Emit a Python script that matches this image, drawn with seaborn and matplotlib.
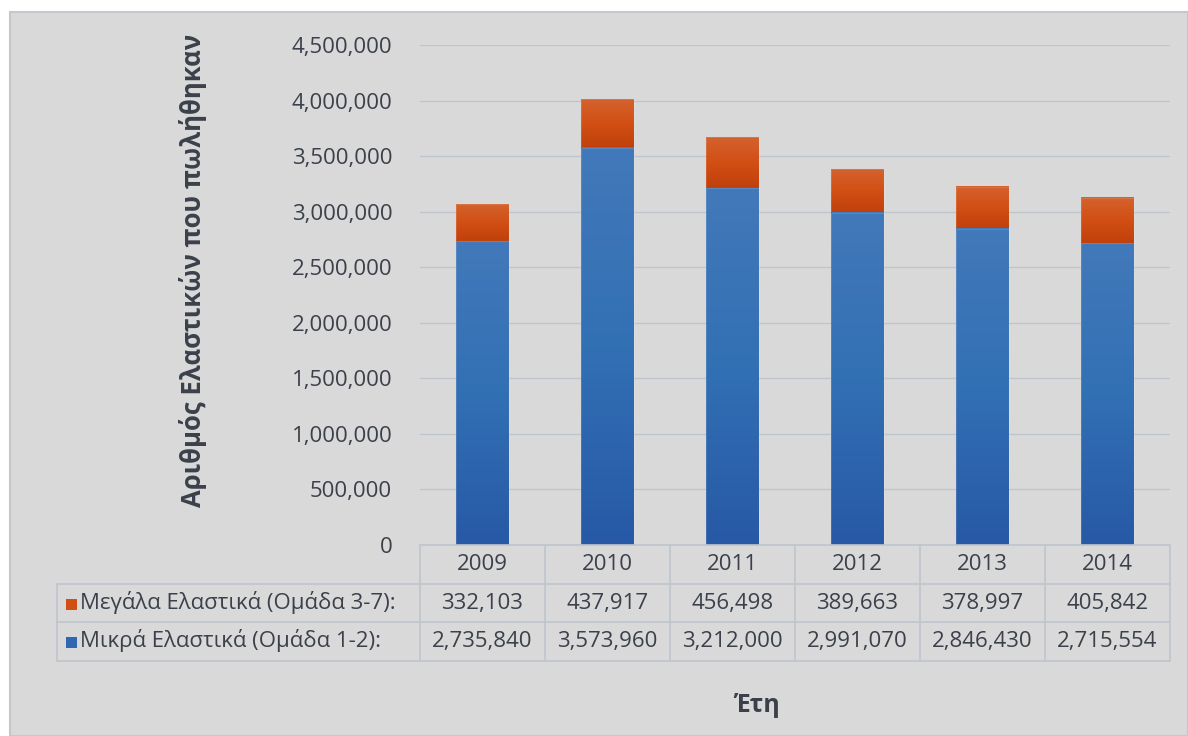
import numpy as np
import pandas as pd
import matplotlib.pyplot as plt
import seaborn as sns
from matplotlib.colors import LinearSegmentedColormap
from matplotlib.patches import Rectangle
from matplotlib.lines import Line2D
from matplotlib.ticker import FuncFormatter, MultipleLocator
from matplotlib.transforms import blended_transform_factory

# Data
years = ["2009", "2010", "2011", "2012", "2013", "2014"]
large_tyres = [332103, 437917, 456498, 389663, 378997, 405842]
small_tyres = [2735840, 3573960, 3212000, 2991070, 2846430, 2715554]
large_label = "Μεγάλα Ελαστικά (Ομάδα 3-7):"
small_label = "Μικρά Ελαστικά (Ομάδα 1-2):"
y_title = "Αριθμός Ελαστικών που πωλήθηκαν"
x_title = "Έτη"

df = pd.DataFrame({"year": years, "small": small_tyres, "large": large_tyres})
df["total"] = df["small"] + df["large"]

W, H = 1188, 736
TXT = "#3b404a"
GRID = "#bfc5cc"
FS = 16

sns.set_theme(style="white")
plt.rcParams["font.family"] = ["Open Sans", "DejaVu Sans"]


def px(x, y):
    return x / W, 1 - y / H


fig = plt.figure(figsize=(W / 100, H / 100), dpi=100)
fig.patch.set_facecolor("white")
fig.patches.append(Rectangle(px(10, H), 1 - 10 / W, 1 - 12 / H, transform=fig.transFigure,
                             facecolor="#d9d9d9", edgecolor="#c4c7cb", lw=1.5, zorder=-10))

ax = fig.add_axes([420 / W, 1 - 545 / H, 750 / W, 500 / H])
ax.patch.set_alpha(0)

# stacked bars: total (orange) behind, small (blue) in front
sns.barplot(data=df, x="year", y="total", color="#d4622e", width=0.42, ax=ax, zorder=2)
sns.barplot(data=df, x="year", y="small", color="#4279ba", width=0.42, ax=ax, zorder=3)

orange_cm = LinearSegmentedColormap.from_list("o", ["#c0400c", "#d24f14", "#d4622e"])
blue_cm = LinearSegmentedColormap.from_list("b", ["#2759a6", "#3270b4", "#4279ba"])
grad = np.linspace(0, 1, 256).reshape(-1, 1)
n = len(years)
for i, p in enumerate(list(ax.patches[:2 * n])):
    p.set_edgecolor("none")
    x0, w = p.get_x(), p.get_width()
    if i < n:
        y0, y1, cm = df["small"][i], df["total"][i], orange_cm
    else:
        y0, y1, cm = 0, df["small"][i - n], blue_cm
    ax.imshow(grad, cmap=cm, origin="lower", extent=(x0, x0 + w, y0, y1),
              aspect="auto", zorder=p.get_zorder() + 0.1)
    ax.add_patch(Rectangle((x0, y0), w, y1 - y0, facecolor="none",
                           edgecolor=(1, 1, 1, 0.12), lw=0.8, zorder=p.get_zorder() + 0.2))

ax.set_xlim(-0.5, n - 0.5)
ax.set_ylim(0, 4500000)
ax.yaxis.set_major_locator(MultipleLocator(500000))
ax.yaxis.set_major_formatter(FuncFormatter(lambda v, _: f"{v:,.0f}"))
ax.set_axisbelow(True)
ax.yaxis.grid(True, color=GRID, lw=1)
ax.set_xticks([])
ax.set_xlabel("")
ax.set_ylabel("")
ax.tick_params(axis="y", length=0, pad=20, labelsize=FS, labelcolor=TXT)
sns.despine(ax=ax, left=True, bottom=True)

# data table below the plot
bt = blended_transform_factory(ax.transData, fig.transFigure)
ft = fig.transFigure
row_y = [545, 584, 622, 661]
left_x = 57
fig.add_artist(Line2D([px(420, 0)[0], 1170 / W], [px(0, 545)[1]] * 2, transform=ft, color=GRID, lw=1.2))
for yy in row_y[1:]:
    fig.add_artist(Line2D([left_x / W, 1170 / W], [px(0, yy)[1]] * 2, transform=ft, color=GRID, lw=1.2))
for k in range(n + 1):
    fig.add_artist(Line2D([k - 0.5, k - 0.5], [px(0, 545)[1], px(0, 661)[1]], transform=bt, color=GRID, lw=1.2))
fig.add_artist(Line2D([left_x / W] * 2, [px(0, 584)[1], px(0, 661)[1]], transform=ft, color=GRID, lw=1.2))

for k, yr in enumerate(years):
    fig.text(k, px(0, 564)[1], yr, transform=bt, ha="center", va="center", fontsize=FS, color=TXT)
    fig.text(k, px(0, 603)[1], f"{df['large'][k]:,}", transform=bt, ha="center", va="center",
             fontsize=FS, color=TXT)
    fig.text(k, px(0, 641)[1], f"{df['small'][k]:,}", transform=bt, ha="center", va="center",
             fontsize=FS, color=TXT)

for yc, lab, col in [(604, large_label, "#d24f14"), (642, small_label, "#2f68b0")]:
    fig.patches.append(Rectangle(px(66, yc + 6), 11 / W, 11 / H, transform=ft, facecolor=col,
                                 edgecolor="none", zorder=3))
    fig.text(*px(80, yc - 1), lab, ha="left", va="center", fontsize=FS, color=TXT)

fig.text(*px(193, 270), y_title, rotation=90, ha="center", va="center",
         fontsize=18.5, fontweight="bold", color=TXT)
fig.text(*px(757, 705), x_title, ha="center", va="center", fontsize=18, fontweight="bold", color=TXT)

fig.savefig("out.png", dpi=100)
